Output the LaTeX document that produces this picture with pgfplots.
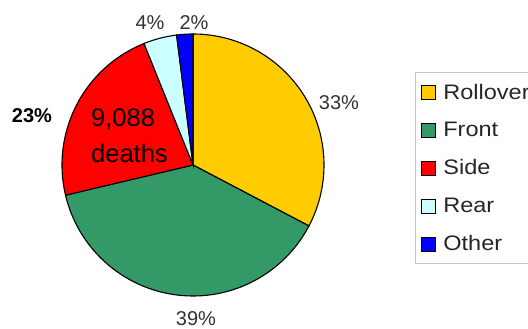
\documentclass[border=0pt]{standalone}
\usepackage{fontspec}
\setmainfont{Liberation Sans}
\newfontfamily\legfont{Liberation Sans}[FakeStretch=1.12]
\usepackage{pgfplots}
\pgfplotsset{compat=1.18}
\definecolor{rollover}{HTML}{FFCC00}
\definecolor{front}{HTML}{339966}
\definecolor{side}{HTML}{FF0000}
\definecolor{rear}{HTML}{CCFFFF}
\definecolor{other}{HTML}{0000FF}
\definecolor{lbl}{HTML}{333333}
% slice: start (cumulative %), end (cumulative %), colour
\newcommand\pieslice[3]{%
  \addplot[draw=black, line width=1.1pt, fill=#3, domain=#1:#2, samples=90, variable=\t]
    ({193+131*sin(3.6*\t)}, {164+131*cos(3.6*\t)}) -- (axis cs:193,164) -- cycle;
}
\begin{document}
\begin{tikzpicture}
\useasboundingbox (0,0) rectangle (528pt,329pt);
\begin{axis}[
  at={(0,0)}, anchor=south west,
  scale only axis, width=528pt, height=329pt,
  xmin=0, xmax=528, ymin=0, ymax=329,
  hide axis, clip=false,
  legend style={at={(axis cs:415,257)}, anchor=north west, draw=gray!45, line width=0.8pt,
    font=\legfont\fontsize{21}{23}\selectfont, text=black!85, row sep=17.6pt,
    inner xsep=6pt, inner ysep=9.5pt, cells={anchor=west}},
  legend cell align=left,
  legend image code/.code={\draw[#1, draw=black, line width=0.8pt] (3pt,-7pt) rectangle (17pt,7pt); \path (22pt,0pt);},
]
% Rollover 32.7, Front 38.6, Side 22.6, Rear 4.1, Other 2.0 (percent)
\pieslice{0}{32.7}{rollover}
\addlegendentry{Rollover}
\pieslice{32.7}{71.3}{front}
\addlegendentry{Front}
\pieslice{71.3}{93.9}{side}
\addlegendentry{Side}
\pieslice{93.9}{98.0}{rear}
\addlegendentry{Rear}
\pieslice{98.0}{100}{other}
\addlegendentry{Other}
\node[text=lbl, font=\fontsize{20}{22}\selectfont] at (axis cs:339,226) {33\%};
\node[text=lbl, font=\fontsize{20}{22}\selectfont] at (axis cs:196,10) {39\%};
\node[text=black, font=\fontsize{20}{22}\selectfont\bfseries] at (axis cs:32,213) {23\%};
\node[text=lbl, font=\fontsize{20}{22}\selectfont] at (axis cs:150,306.5) {4\%};
\node[text=lbl, font=\fontsize{20}{22}\selectfont] at (axis cs:194,306.5) {2\%};
\node[text=black, font=\fontsize{25.5}{30}\selectfont, anchor=base west, inner sep=0pt] at (axis cs:91,202) {9,088};
\node[text=black, font=\fontsize{25.5}{30}\selectfont, anchor=base west, inner sep=0pt] at (axis cs:91,166) {deaths};
\end{axis}
\end{tikzpicture}
\end{document}
